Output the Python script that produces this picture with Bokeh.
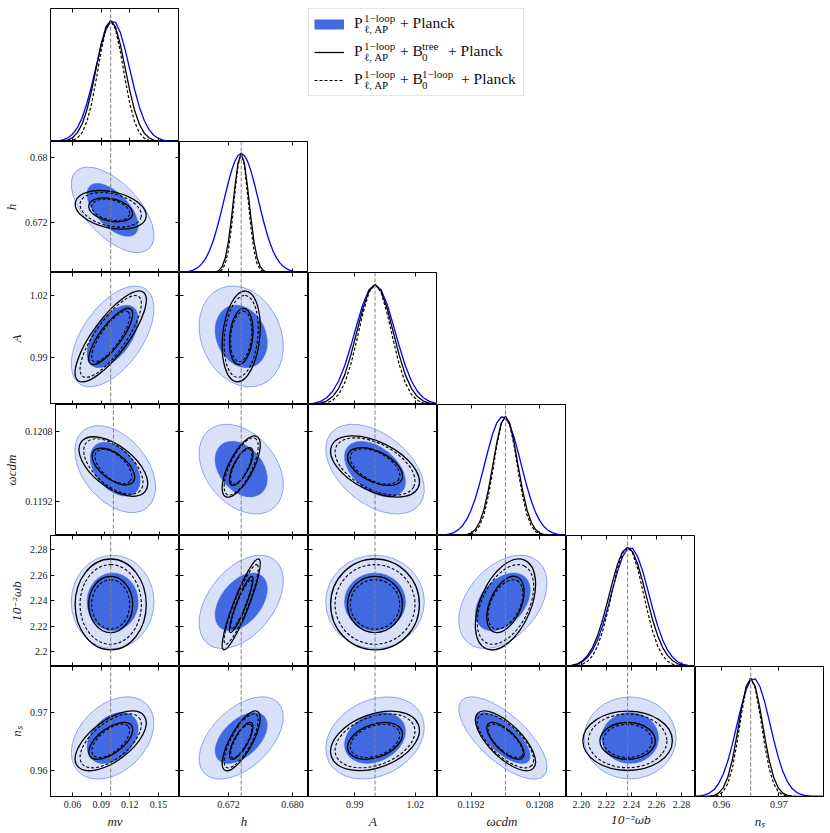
import numpy as np
from bokeh.plotting import figure
from bokeh.layouts import column, row
from bokeh.models import Range1d, LinearAxis, FixedTicker, Span, Legend, LegendItem, Spacer
from bokeh.embed import file_html
from bokeh.resources import INLINE

# ---------------- data ----------------
PARAM_LABELS = ["mν", "h", "A", "ωcdm", "10⁻²ωb", "nₛ"]
FIDUCIAL = [0.100, 0.6736, 1.000, 0.1200, 2.237, 0.9651]
AXIS_RANGES = [(0.0370, 0.1720), (0.6659, 0.6820), (0.9670, 1.0310),
               (0.11842, 0.12142), (2.1882, 2.2912), (0.95546, 0.97798)]
TICKS = [[0.06, 0.09, 0.12, 0.15], [0.672, 0.680], [0.99, 1.02],
         [0.1192, 0.1208], [2.20, 2.22, 2.24, 2.26, 2.28], [0.96, 0.97]]
X_TICK_LABELS = [["0.06", "0.09", "0.12", "0.15"], ["0.672", "0.680"], ["0.99", "1.02"],
                 ["0.1192", "0.1208"], ["2.20", "2.22", "2.24", "2.26", "2.28"], ["0.96", "0.97"]]
Y_TICK_LABELS = [["0.06", "0.09", "0.12", "0.15"], ["0.672", "0.68"], ["0.99", "1.02"],
                 ["0.1192", "0.1208"], ["2.2", "2.22", "2.24", "2.26", "2.28"], ["0.96", "0.97"]]

# legend text, split in runs: (texts for legend rows, first row, x offset, kind)
LEGEND_RUNS = [
    (["P", "P", "P"], 0, 46, "main"),
    (["1−loop", "1−loop", "1−loop"], 0, 56, "sup"),
    (["ℓ, AP", "ℓ, AP", "ℓ, AP"], 0, 56, "sub"),
    (["+ Planck", "+ B", "+ B"], 0, 92, "main"),
    (["tree", "1−loop"], 1, 114, "sup"),
    (["0", "0"], 1, 114, "sub"),
    (["+ Planck"], 1, 140, "main"),
    (["+ Planck"], 2, 153, "main"),
]

# ---- 1D marginals (peak-normalised), read on a grid for each parameter ----
GRID_MNU = [0.040, 0.045, 0.050, 0.055, 0.060, 0.065, 0.070, 0.075, 0.080, 0.085, 0.090,
            0.095, 0.100, 0.105, 0.110, 0.115, 0.120, 0.125, 0.130, 0.135, 0.140, 0.145,
            0.150, 0.155, 0.160, 0.165, 0.170]
MNU_P = [0.002, 0.006, 0.013, 0.029, 0.060, 0.112, 0.195, 0.312, 0.462, 0.630, 0.795, 0.925,
         0.994, 0.986, 0.903, 0.764, 0.596, 0.430, 0.286, 0.176, 0.100, 0.052, 0.025, 0.011,
         0.005, 0.002, 0.001]
MNU_T = [0.000, 0.001, 0.004, 0.012, 0.031, 0.071, 0.143, 0.258, 0.421, 0.614, 0.805, 0.947,
         1.000, 0.947, 0.805, 0.614, 0.421, 0.258, 0.143, 0.071, 0.031, 0.012, 0.004, 0.001,
         0.000, 0.000, 0.000]
MNU_L = [0.000, 0.000, 0.001, 0.003, 0.009, 0.028, 0.073, 0.162, 0.312, 0.519, 0.747, 0.930,
         1.000, 0.930, 0.747, 0.519, 0.312, 0.162, 0.073, 0.028, 0.009, 0.003, 0.001, 0.000,
         0.000, 0.000, 0.000]

GRID_H = [0.6660, 0.6664, 0.6668, 0.6672, 0.6676, 0.6680, 0.6684, 0.6688, 0.6692, 0.6696,
          0.6700, 0.6704, 0.6708, 0.6712, 0.6716, 0.6720, 0.6724, 0.6728, 0.6732, 0.6736,
          0.6740, 0.6744, 0.6748, 0.6752, 0.6756, 0.6760, 0.6764, 0.6768, 0.6772, 0.6776,
          0.6780, 0.6784, 0.6788, 0.6792, 0.6796, 0.6800, 0.6804, 0.6808, 0.6812, 0.6816,
          0.6820]
H_P = [0.002, 0.004, 0.007, 0.012, 0.020, 0.034, 0.054, 0.083, 0.123, 0.177, 0.246, 0.330,
       0.428, 0.536, 0.649, 0.758, 0.856, 0.933, 0.983, 1.000, 0.983, 0.933, 0.856, 0.758,
       0.649, 0.536, 0.428, 0.330, 0.246, 0.177, 0.123, 0.083, 0.054, 0.034, 0.020, 0.012,
       0.007, 0.004, 0.002, 0.001, 0.000]
H_T = [0.000, 0.000, 0.000, 0.000, 0.000, 0.000, 0.000, 0.000, 0.000, 0.000, 0.001, 0.004,
       0.016, 0.047, 0.119, 0.257, 0.465, 0.712, 0.918, 1.000, 0.918, 0.712, 0.465, 0.257,
       0.119, 0.047, 0.016, 0.004, 0.001, 0.000, 0.000, 0.000, 0.000, 0.000, 0.000, 0.000,
       0.000, 0.000, 0.000, 0.000, 0.000]
H_L = [0.000, 0.000, 0.000, 0.000, 0.000, 0.000, 0.000, 0.000, 0.000, 0.000, 0.000, 0.001,
       0.006, 0.022, 0.071, 0.184, 0.386, 0.655, 0.900, 1.000, 0.900, 0.655, 0.386, 0.184,
       0.071, 0.022, 0.006, 0.001, 0.000, 0.000, 0.000, 0.000, 0.000, 0.000, 0.000, 0.000,
       0.000, 0.000, 0.000, 0.000, 0.000]

GRID_A = [0.967, 0.970, 0.973, 0.976, 0.979, 0.982, 0.985, 0.988, 0.991, 0.994, 0.997, 1.000,
          1.003, 1.006, 1.009, 1.012, 1.015, 1.018, 1.021, 1.024, 1.027, 1.030]
A_P = [0.004, 0.011, 0.026, 0.056, 0.110, 0.198, 0.325, 0.487, 0.667, 0.835, 0.956, 1.000,
       0.956, 0.835, 0.667, 0.487, 0.325, 0.198, 0.110, 0.056, 0.026, 0.011]
A_T = [0.001, 0.004, 0.011, 0.029, 0.066, 0.135, 0.249, 0.411, 0.607, 0.801, 0.946, 1.000,
       0.946, 0.801, 0.607, 0.411, 0.249, 0.135, 0.066, 0.029, 0.011, 0.004]
A_L = [0.000, 0.001, 0.004, 0.012, 0.035, 0.085, 0.180, 0.334, 0.539, 0.760, 0.934, 1.000,
       0.934, 0.760, 0.539, 0.334, 0.180, 0.085, 0.035, 0.012, 0.004, 0.001]

GRID_OCDM = [0.1185, 0.1186, 0.1187, 0.1188, 0.1189, 0.1190, 0.1191, 0.1192, 0.1193, 0.1194,
             0.1195, 0.1196, 0.1197, 0.1198, 0.1199, 0.1200, 0.1201, 0.1202, 0.1203, 0.1204,
             0.1205, 0.1206, 0.1207, 0.1208, 0.1209, 0.1210, 0.1211, 0.1212, 0.1213, 0.1214]
OCDM_P = [0.003, 0.006, 0.013, 0.025, 0.047, 0.082, 0.135, 0.212, 0.313, 0.437, 0.577, 0.720,
          0.850, 0.946, 0.995, 0.990, 0.930, 0.826, 0.693, 0.549, 0.411, 0.291, 0.194, 0.123,
          0.073, 0.041, 0.022, 0.011, 0.005, 0.002]
OCDM_T = [0.000, 0.000, 0.000, 0.000, 0.001, 0.002, 0.007, 0.020, 0.050, 0.111, 0.217, 0.376,
          0.577, 0.783, 0.941, 1.000, 0.941, 0.783, 0.577, 0.376, 0.217, 0.111, 0.050, 0.020,
          0.007, 0.002, 0.001, 0.000, 0.000, 0.000]
OCDM_L = [0.000, 0.000, 0.000, 0.000, 0.000, 0.001, 0.004, 0.012, 0.033, 0.082, 0.175, 0.328,
          0.534, 0.757, 0.933, 1.000, 0.933, 0.757, 0.534, 0.328, 0.175, 0.082, 0.033, 0.012,
          0.004, 0.001, 0.000, 0.000, 0.000, 0.000]

GRID_OB = [2.189, 2.193, 2.197, 2.201, 2.205, 2.209, 2.213, 2.217, 2.221, 2.225, 2.229, 2.233,
           2.237, 2.241, 2.245, 2.249, 2.253, 2.257, 2.261, 2.265, 2.269, 2.273, 2.277, 2.281,
           2.285, 2.289]
OB_P = [0.004, 0.009, 0.020, 0.040, 0.077, 0.135, 0.223, 0.341, 0.487, 0.647, 0.801, 0.923,
        0.991, 0.991, 0.923, 0.801, 0.647, 0.487, 0.341, 0.223, 0.135, 0.077, 0.040, 0.020,
        0.009, 0.004]
OB_T = [0.004, 0.011, 0.023, 0.048, 0.091, 0.159, 0.259, 0.391, 0.549, 0.713, 0.861, 0.963,
        1.000, 0.963, 0.861, 0.713, 0.549, 0.391, 0.259, 0.159, 0.091, 0.048, 0.023, 0.011,
        0.004, 0.002]
OB_L = [0.001, 0.003, 0.008, 0.019, 0.044, 0.091, 0.172, 0.295, 0.458, 0.644, 0.823, 0.952,
        1.000, 0.952, 0.823, 0.644, 0.458, 0.295, 0.172, 0.091, 0.044, 0.019, 0.008, 0.003,
        0.001, 0.000]

GRID_NS = [0.9555, 0.9563, 0.9571, 0.9579, 0.9587, 0.9595, 0.9603, 0.9611, 0.9619, 0.9627,
           0.9635, 0.9643, 0.9651, 0.9659, 0.9667, 0.9675, 0.9683, 0.9691, 0.9699, 0.9707,
           0.9715, 0.9723, 0.9731, 0.9739, 0.9747, 0.9755, 0.9763, 0.9771, 0.9779]
NS_P = [0.002, 0.006, 0.014, 0.029, 0.059, 0.110, 0.188, 0.300, 0.443, 0.607, 0.769, 0.904,
        0.985, 0.995, 0.931, 0.807, 0.648, 0.483, 0.333, 0.213, 0.126, 0.069, 0.035, 0.017,
        0.007, 0.003, 0.001, 0.000, 0.000]
NS_T = [0.000, 0.000, 0.001, 0.003, 0.010, 0.029, 0.073, 0.163, 0.313, 0.520, 0.748, 0.930,
        1.000, 0.930, 0.748, 0.520, 0.313, 0.163, 0.073, 0.029, 0.010, 0.003, 0.001, 0.000,
        0.000, 0.000, 0.000, 0.000, 0.000]
NS_L = [0.000, 0.000, 0.000, 0.001, 0.003, 0.013, 0.041, 0.109, 0.242, 0.450, 0.701, 0.915,
        1.000, 0.915, 0.701, 0.450, 0.242, 0.109, 0.041, 0.013, 0.003, 0.001, 0.000, 0.000,
        0.000, 0.000, 0.000, 0.000, 0.000]

GRIDS = [GRID_MNU, GRID_H, GRID_A, GRID_OCDM, GRID_OB, GRID_NS]
MARGINALS = [[MNU_P, MNU_T, MNU_L], [H_P, H_T, H_L], [A_P, A_T, A_L],
             [OCDM_P, OCDM_T, OCDM_L], [OB_P, OB_T, OB_L], [NS_P, NS_T, NS_L]]

# ---- 2D contours: centres, widths and correlations per data set ----
MEAN_P = [0.1020, 0.6736, 1.000, 0.11994, 2.239, 0.9656]
SIG_P = [0.0177, 0.00215, 0.0100, 0.00042, 0.0150, 0.00290]
MEAN_T = [0.100, 0.6736, 1.000, 0.1200, 2.237, 0.9651]
SIG_T = [0.0152, 0.00097, 0.0090, 0.000286, 0.0146, 0.00210]
MEAN_L = [0.100, 0.6736, 1.000, 0.1200, 2.237, 0.9651]
SIG_L = [0.0131, 0.00087, 0.0081, 0.000268, 0.0128, 0.00190]

# correlation per (x param, y param): [P, P+Btree, P+B1loop]
CORR = {
    (0, 1): [-0.60, -0.30, -0.30],
    (0, 2): [0.55, 0.80, 0.80],
    (1, 2): [-0.20, 0.20, 0.20],
    (0, 3): [-0.45, -0.60, -0.60],
    (1, 3): [-0.35, 0.70, 0.70],
    (2, 3): [-0.45, -0.50, -0.50],
    (0, 4): [0.00, 0.00, 0.00],
    (1, 4): [0.45, 0.90, 0.90],
    (2, 4): [0.00, 0.00, 0.00],
    (3, 4): [0.40, 0.45, 0.45],
    (0, 5): [0.35, 0.60, 0.60],
    (1, 5): [0.50, 0.75, 0.75],
    (2, 5): [0.25, 0.35, 0.35],
    (3, 5): [-0.70, -0.70, -0.70],
    (4, 5): [0.00, 0.00, 0.00],
}
MEANS = [MEAN_P, MEAN_T, MEAN_L]
SIGMAS = [SIG_P, SIG_T, SIG_L]

# ---------------- layout / style ----------------
MARGIN = 8
COL_W = 129
LEFT_PAD = 42 + MARGIN
BOTTOM_PAD = 34
ROW_H = [133, 131, 132, 131, 131, 131]
K95, K68 = 2.448, 1.515
FONT = "Liberation Serif"
ROYAL = "#4169e1"
N = 6


def pxx(j):
    lo, hi = AXIS_RANGES[j]
    return COL_W / (hi - lo)


def pxy(i):
    lo, hi = AXIS_RANGES[i]
    return ROW_H[i] / (hi - lo)


def ellipse_spec(i, j, d, k):
    mean, sig = MEANS[d], SIGMAS[d]
    rho = CORR[(j, i)][d]
    sx = sig[j] * pxx(j)
    sy = sig[i] * pxy(i)
    a, c, b = sx * sx, sy * sy, rho * sx * sy
    tr = (a + c) / 2.0
    dd = np.sqrt(((a - c) / 2.0) ** 2 + b * b)
    l1, l2 = tr + dd, max(tr - dd, 1e-12)
    theta = 0.5 * np.arctan2(2 * b, a - c)
    return dict(x=[mean[j]], y=[mean[i]],
                width=[2 * k * np.sqrt(l1) / pxx(j)],
                height=[2 * k * np.sqrt(l2) / pxy(i)],
                angle=[theta])


def make_axis(ticks, labels=None, axis_label=None, fixed=None, param=None):
    ax = LinearAxis(ticker=FixedTicker(ticks=ticks))
    ax.major_tick_in = 4
    ax.major_tick_out = 0
    ax.minor_tick_line_color = None
    ax.major_tick_line_color = "black"
    ax.axis_line_color = "black"
    if labels is None:
        ax.major_label_text_color = None
        ax.fixed_location = fixed
    else:
        ax.major_label_overrides = dict(zip(ticks, labels))
        ax.major_label_text_font = FONT
        ax.major_label_text_font_size = "10px"
        ax.major_label_text_color = "#222222"
        ax.major_label_standoff = 4
    if axis_label is not None:
        ax.axis_label = axis_label
        ax.axis_label_text_font = "DejaVu Serif" if param == 4 else FONT
        ax.axis_label_text_font_style = "italic"
        ax.axis_label_text_font_size = "11px" if param == 4 else "13px"
        ax.axis_label_text_color = "#222222"
        ax.axis_label_standoff = 3
    return ax


def base_figure(w, h, xr, yr, top):
    p = figure(width=w, height=h + top, x_range=xr, y_range=yr, output_backend="svg",
               toolbar_location=None, tools="", x_axis_location=None, y_axis_location=None)
    p.min_border_left = 0
    p.min_border_right = 0
    p.min_border_top = top
    p.min_border_bottom = 0
    p.grid.visible = False
    p.background_fill_color = "white"
    p.border_fill_color = "white"
    return p


def make_panel(i, j):
    diag = i == j
    w = COL_W + (LEFT_PAD if j == 0 else 0)
    h = ROW_H[i] + (BOTTOM_PAD if i == N - 1 else 0)
    top = MARGIN if i == 0 else 0
    xr = Range1d(*AXIS_RANGES[j])
    yr = Range1d(0, 1.1) if diag else Range1d(*AXIS_RANGES[i])
    p = base_figure(w, h, xr, yr, top)
    p.min_border_left = LEFT_PAD if j == 0 else 0
    p.min_border_bottom = BOTTOM_PAD if i == N - 1 else 0
    p.outline_line_color = "black"
    p.outline_line_width = 1

    # axes with inward ticks on every side
    if i == N - 1:
        p.add_layout(make_axis(TICKS[j], X_TICK_LABELS[j], PARAM_LABELS[j], param=j), "below")
    else:
        p.add_layout(make_axis(TICKS[j], fixed=yr.start), "below")
    p.add_layout(make_axis(TICKS[j], fixed=yr.end), "above")
    if not diag:
        if j == 0:
            ax = make_axis(TICKS[i], Y_TICK_LABELS[i], PARAM_LABELS[i], param=i)
            ax.major_label_standoff = 3
            p.add_layout(ax, "left")
        else:
            p.add_layout(make_axis(TICKS[i], fixed=xr.start), "left")
        p.add_layout(make_axis(TICKS[i], fixed=xr.end), "right")

    if diag:
        styles = [("#0000ff", "solid", 1.3), ("black", "solid", 1.3), ("black", "3 2", 1.2)]
        for dens, (color, dash, lw) in zip(MARGINALS[j], styles):
            p.line(GRIDS[j], dens, line_color=color, line_width=lw, line_dash=dash,
                   line_join="round")
    else:
        p.ellipse(**ellipse_spec(i, j, 0, K95), fill_color=ROYAL, fill_alpha=0.2,
                  line_color=ROYAL, line_alpha=0.55, line_width=1)
        p.ellipse(**ellipse_spec(i, j, 0, K68), fill_color=ROYAL, fill_alpha=1.0,
                  line_color=ROYAL, line_width=0.5)
        for k in (K95, K68):
            p.ellipse(**ellipse_spec(i, j, 1, k), fill_color=None, line_color="black",
                      line_width=1.3)
            p.ellipse(**ellipse_spec(i, j, 2, k), fill_color=None, line_color="black",
                      line_width=1.1, line_dash="3 2")

    p.add_layout(Span(location=FIDUCIAL[j], dimension="height", line_color="#808080",
                      line_dash="4 2", line_width=1))
    return p


def make_legend_figure():
    w, h = 4 * COL_W, ROW_H[0]
    leg = base_figure(w, h, Range1d(0, w), Range1d(0, h), MARGIN)
    leg.outline_line_color = None
    r1 = leg.line(x=[np.nan], y=[np.nan], line_color=ROYAL, line_width=10)
    r2 = leg.line(x=[np.nan], y=[np.nan], line_color="black", line_width=1.3)
    r3 = leg.line(x=[np.nan], y=[np.nan], line_color="black", line_width=1.2, line_dash="3 2")
    box = Legend(items=[LegendItem(label=" ", renderers=[r]) for r in (r1, r2, r3)],
                 location="top_left", margin=0, padding=5, spacing=8,
                 glyph_width=30, glyph_height=20, label_height=20, label_width=164,
                 label_standoff=10, label_text_font=FONT, label_text_font_size="14px",
                 border_line_color="#cccccc", border_line_width=1,
                 background_fill_alpha=1.0)
    leg.add_layout(box)
    # the rich legend text is laid over the box as runs of main text and scripts
    for texts, row0, x, kind in LEGEND_RUNS:
        n = len(texts)
        dy = {"main": 0.0, "sup": 5.5, "sub": -5.5}[kind]
        top = 5 + 28 * row0 - dy
        bottom = top + 20 * n + 8 * (n - 1)
        run = Legend(items=[LegendItem(label=t, renderers=[r1]) for t in texts],
                     location=(x, h - bottom), margin=0, padding=0, spacing=8,
                     glyph_width=0, glyph_height=20, label_height=20, label_width=0,
                     label_standoff=0, label_text_font=FONT,
                     label_text_font_size="15.5px" if kind == "main" else "11px",
                     label_text_color="#111111", border_line_color=None,
                     background_fill_color=None)
        leg.add_layout(run)
    return leg


rows = []
for i in range(N):
    figs = [make_panel(i, j) for j in range(i + 1)]
    if i == 0:
        figs = figs + [Spacer(width=COL_W, height=ROW_H[0] + MARGIN), make_legend_figure()]
    rows.append(row(*figs))

layout = column(*rows)
open("out.html", "w").write(file_html(layout, INLINE))
